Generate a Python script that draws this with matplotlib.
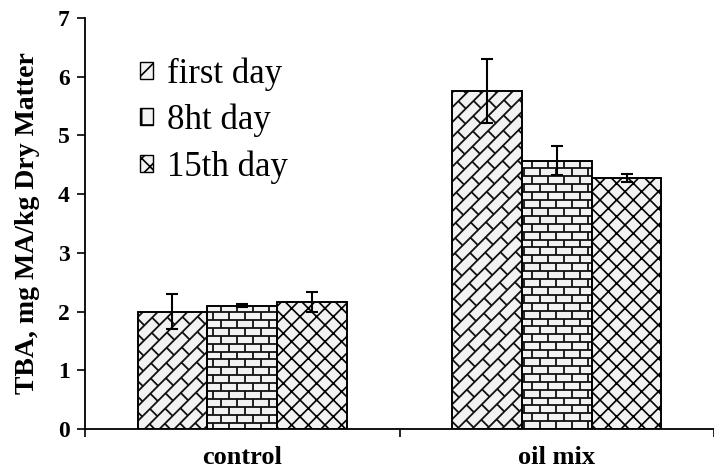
import numpy as np
import matplotlib
matplotlib.use("Agg")
import matplotlib.pyplot as plt
from matplotlib.collections import LineCollection
from matplotlib.patches import Patch
from matplotlib.transforms import IdentityTransform

categories = ["control", "oil mix"]
series_names = ["first day", "8ht day", "15th day"]
values = {
    "first day": [2.00, 5.76],
    "8ht day": [2.10, 4.57],
    "15th day": [2.16, 4.27],
}
errors = {
    "first day": [0.30, 0.55],
    "8ht day": [0.03, 0.25],
    "15th day": [0.17, 0.07],
}

plt.rcParams['font.family'] = ['Liberation Serif', 'DejaVu Serif']
plt.rcParams['hatch.linewidth'] = 1.2

fig = plt.figure(figsize=(7.14, 4.74), dpi=100)
ax = fig.add_axes([85/714, 45/474, 629/714, 411/474])

bar_w = 0.222
offsets = [-bar_w, 0.0, bar_w]
x = np.arange(len(categories)) + 0.5
face = "#f2f2f2"


def brick_fill(patch, h, w, angle_deg, lw=1.3, color="#111111"):
    # brick pattern drawn in display space, clipped to the bar patch
    bb = patch.get_window_extent()
    cx, cy = (bb.x0 + bb.x1) / 2, (bb.y0 + bb.y1) / 2
    R = np.hypot(bb.width, bb.height) / 2 + 2 * max(h, w)
    a = np.deg2rad(angle_deg)
    ca, sa = np.cos(a), np.sin(a)

    def tr(u, v):
        return (cx + u * ca - v * sa, cy + u * sa + v * ca)

    segs = []
    kmin, kmax = int(np.floor(-R / h)), int(np.ceil(R / h))
    jmin, jmax = int(np.floor(-R / w)) - 1, int(np.ceil(R / w)) + 1
    for k in range(kmin, kmax + 1):
        v0 = k * h
        segs.append([tr(-R, v0), tr(R, v0)])
        off = (k % 2) * w / 2
        for j in range(jmin, jmax + 1):
            u = j * w + off
            segs.append([tr(u, v0), tr(u, v0 + h)])
    lc = LineCollection(segs, colors=color, linewidths=lw,
                        transform=IdentityTransform(), zorder=2.5)
    ax.add_collection(lc, autolim=False)
    lc.set_clip_path(patch)


bars_all = []
for i, name in enumerate(series_names):
    hatch = 'xx' if name == "15th day" else None
    bars = ax.bar(x + offsets[i], values[name], width=bar_w, color=face,
                  edgecolor="black", linewidth=1.2, hatch=hatch, zorder=2)
    ax.errorbar(x + offsets[i], values[name], yerr=errors[name], fmt='none',
                ecolor="black", elinewidth=1.5, capsize=4.3, capthick=1.5,
                zorder=4)
    bars_all.append(bars)

ax.set_xlim(0, 629/319)
ax.set_ylim(0, 7)
fig.canvas.draw()
for p in bars_all[0]:
    brick_fill(p, h=10.5, w=22.0, angle_deg=45)
for p in bars_all[1]:
    brick_fill(p, h=7.9, w=16.0, angle_deg=0)
# outlines on top
for i, name in enumerate(series_names):
    ax.bar(x + offsets[i], values[name], width=bar_w, fill=False,
           edgecolor="black", linewidth=1.2, zorder=3)

for s in ["top", "right"]:
    ax.spines[s].set_visible(False)
ax.spines["left"].set_linewidth(1.3)
ax.spines["bottom"].set_linewidth(1.3)

ax.set_yticks(range(0, 8))
ax.tick_params(axis='y', direction='out', length=6, width=1.2, labelsize=17, pad=5)
for t in ax.get_yticklabels():
    t.set_fontweight('bold')

ax.set_xticks(x)
ax.set_xticklabels(categories, fontsize=19, fontweight='bold')
ax.tick_params(axis='x', which='major', length=0, pad=12)
ax.set_xticks([0, 1, 2], minor=True)
ax.tick_params(axis='x', which='minor', direction='out', length=6, width=1.2)

ax.set_ylabel("TBA, mg MA/kg Dry Matter", fontsize=20, fontweight='bold', labelpad=13)

handles = [Patch(facecolor=face, edgecolor="black", hatch='//'),
           Patch(facecolor=face, edgecolor="black", hatch='+'),
           Patch(facecolor=face, edgecolor="black", hatch='xx')]
ax.legend(handles, series_names, loc='upper left', bbox_to_anchor=(0.087, 0.905),
          frameon=False, fontsize=25, handlelength=0.38, handleheight=0.38,
          handletextpad=0.4, labelspacing=0.38, borderaxespad=0, borderpad=0)

fig.savefig("out.png", dpi=100)
